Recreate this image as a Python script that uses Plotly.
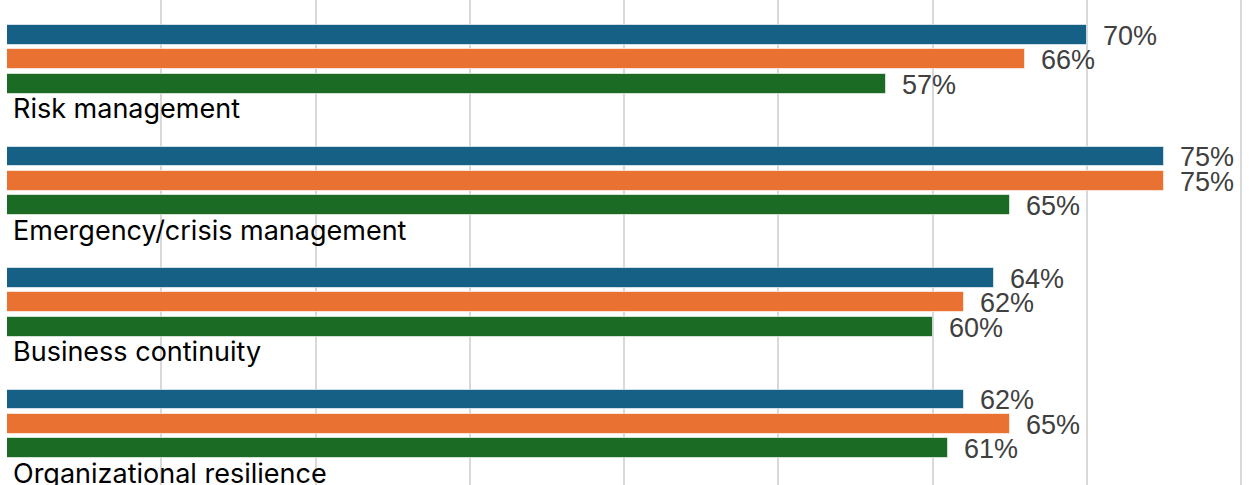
import plotly.graph_objects as go

# Survey categories, top to bottom
categories = [
    "Risk management",
    "Emergency/crisis management",
    "Business continuity",
    "Organizational resilience",
]

# Percentages for the three series, in category order
series_a = [70, 75, 64, 62]
series_b = [66, 75, 62, 65]
series_c = [57, 65, 60, 61]

series_names = ["Series 1", "Series 2", "Series 3"]
series_colors = ["#176085", "#E97132", "#1B6B25"]

SLOTS_PER_GROUP = 5  # three bars, one label row, one gap row

fig = go.Figure()
annotations = []

for j, (name, values, color) in enumerate(
    zip(series_names, [series_a, series_b, series_c], series_colors)
):
    ys = [i * SLOTS_PER_GROUP + j for i in range(len(categories))]
    fig.add_trace(
        go.Bar(
            x=values,
            y=ys,
            orientation="h",
            name=name,
            width=0.82,
            marker=dict(color=color, line=dict(color="rgba(255,255,255,0.6)", width=1)),
            hoverinfo="x+name",
        )
    )
    for v, y in zip(values, ys):
        annotations.append(
            dict(
                x=v, y=y, xref="x", yref="y",
                text=f"{v}%", showarrow=False,
                xanchor="left", yanchor="middle", xshift=14, yshift=-1,
                font=dict(family="Liberation Sans, Arial, sans-serif", size=27, color="#404040"),
            )
        )

for i, cat in enumerate(categories):
    annotations.append(
        dict(
            x=0, y=i * SLOTS_PER_GROUP + 3, xref="x", yref="y",
            text=cat, showarrow=False,
            xanchor="left", yanchor="middle", xshift=4, yshift=-1,
            font=dict(family="Inter, Noto Sans, sans-serif", size=27, color="#000000"),
        )
    )

fig.update_layout(
    width=1249,
    height=485,
    margin=dict(l=7, r=0, t=0, b=0),
    paper_bgcolor="white",
    plot_bgcolor="white",
    showlegend=False,
    bargap=0,
    annotations=annotations,
    xaxis=dict(
        range=[0, 80.5],
        dtick=10,
        showgrid=True,
        gridcolor="#D9D9D9",
        gridwidth=2,
        showticklabels=False,
        zeroline=False,
        showline=False,
        ticks="",
    ),
    yaxis=dict(
        range=[18.52, -1.44],
        showgrid=False,
        showticklabels=False,
        zeroline=False,
        showline=False,
        ticks="",
    ),
)

fig.write_html("out.html")
